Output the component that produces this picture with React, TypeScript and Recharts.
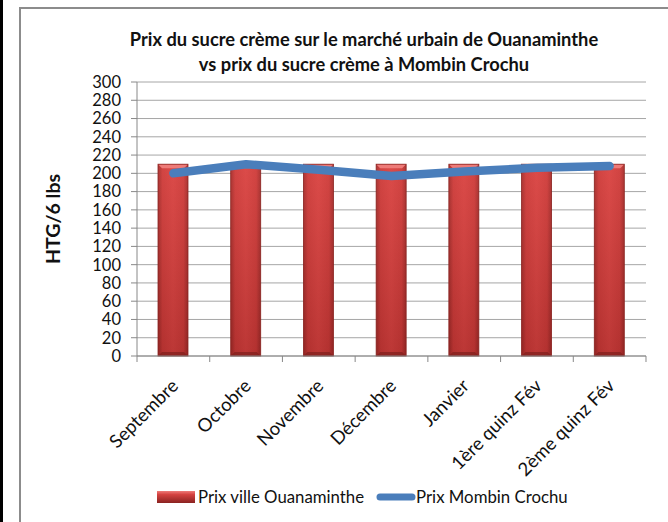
import React from 'react';
import { ComposedChart, Bar, Line, XAxis, YAxis, CartesianGrid } from 'recharts';

const categories = ['Septembre', 'Octobre', 'Novembre', 'Décembre', 'Janvier', '1ère quinz Fév', '2ème quinz Fév'];
const prixOuanaminthe = [210, 210, 210, 210, 210, 210, 210];
const prixMombin = [200, 210, 204, 197, 202, 206, 208];
const yTicks = [0, 20, 40, 60, 80, 100, 120, 140, 160, 180, 200, 220, 240, 260, 280, 300];

const titleLines = ['Prix du sucre crème sur le marché urbain de Ouanaminthe', 'vs prix du sucre crème à Mombin Crochu'];
const yLabel = 'HTG/6 lbs';
const seriesNames = ['Prix ville Ouanaminthe', 'Prix Mombin Crochu'];

const data = categories.map((c, i) => ({ cat: c, ouana: prixOuanaminthe[i], mombin: prixMombin[i] }));

const FONT = 'Lato, "Open Sans", sans-serif';

const BarShape = (props: any) => {
  const { x, y, width, height } = props;
  if (!height || height <= 0) return null;
  const b = 4;
  return (
    <g>
      <rect x={x} y={y} width={width} height={height} fill="url(#barH)" />
      <rect x={x} y={y} width={width} height={height} fill="url(#barV)" />
      <polygon points={`${x},${y} ${x + width},${y} ${x + width - b},${y + b} ${x + b},${y + b}`} fill="#ee7b78" />
      <polygon points={`${x},${y + height} ${x + width},${y + height} ${x + width - b},${y + height - b} ${x + b},${y + height - b}`} fill="#7e1f1d" opacity={0.7} />
      <rect x={x} y={y} width={width} height={height} fill="none" stroke="#8a2321" strokeWidth={0.8} />
    </g>
  );
};

const XTick = (props: any) => {
  const { x, y, payload, index, visibleTicksCount } = props;
  const half = 72.7 / 2;
  return (
    <g>
      <line x1={x - half} y1={y - 8} x2={x - half} y2={y - 2} stroke="#888" />
      {index === (visibleTicksCount ?? 7) - 1 && (
        <line x1={x + half} y1={y - 8} x2={x + half} y2={y - 2} stroke="#888" />
      )}
      <text
        x={x + 6}
        y={y + 23}
        transform={`rotate(-45, ${x + 6}, ${y + 23})`}
        textAnchor="end"
        fontSize={18.5}
        fontFamily={FONT}
        fill="#111"
      >
        {payload.value}
      </text>
    </g>
  );
};

export default function App() {
  return (
    <div style={{ position: 'absolute', left: 0, top: 0, width: 668, height: 522, background: '#fff', overflow: 'hidden', fontFamily: FONT }}>
      <div style={{ position: 'absolute', left: 0, top: 0, width: 3, height: 522, background: '#000' }} />
      <div style={{ position: 'absolute', left: 19, top: 7, width: 649, height: 515, borderLeft: '2px solid #8c8c8c', borderTop: '2px solid #8c8c8c' }} />
      <div style={{ position: 'absolute', left: 44, top: 27, width: 640, textAlign: 'center', fontWeight: 700, fontSize: 18.3, lineHeight: '25px', color: '#111', whiteSpace: 'nowrap' }}>
        <div>{titleLines[0]}</div>
        <div>{titleLines[1]}</div>
      </div>
      <div style={{ position: 'absolute', left: 53, top: 219, width: 0, height: 0 }}>
        <div style={{ position: 'absolute', left: -60, top: -12, width: 120, textAlign: 'center', transform: 'rotate(-90deg)', fontWeight: 700, fontSize: 19.5, lineHeight: '24px', color: '#111', whiteSpace: 'nowrap' }}>
          {yLabel}
        </div>
      </div>
      <div style={{ position: 'absolute', left: 0, top: 0 }}>
        <ComposedChart width={668} height={522} data={data} margin={{ top: 82, right: 22, bottom: 106, left: 0 }} barSize={30}>
          <defs>
            <linearGradient id="barH" x1="0" y1="0" x2="1" y2="0">
              <stop offset="0" stopColor="#9a2927" />
              <stop offset="0.15" stopColor="#c83937" />
              <stop offset="0.5" stopColor="#d4413f" />
              <stop offset="0.85" stopColor="#c83937" />
              <stop offset="1" stopColor="#9a2927" />
            </linearGradient>
            <linearGradient id="barV" x1="0" y1="0" x2="0" y2="1">
              <stop offset="0" stopColor="#ff7a78" stopOpacity={0.18} />
              <stop offset="1" stopColor="#5a1010" stopOpacity={0.2} />
            </linearGradient>
          </defs>
          <CartesianGrid vertical={false} stroke="#a6a6a6" strokeWidth={1} />
          <XAxis
            dataKey="cat"
            interval={0}
            height={60}
            tickLine={false}
            axisLine={{ stroke: '#888' }}
            tick={<XTick />}
          />
          <YAxis
            width={137}
            domain={[0, 300]}
            ticks={yTicks}
            interval={0}
            tickSize={6}
            tickMargin={10}
            tickLine={{ stroke: '#888' }}
            axisLine={{ stroke: '#888' }}
            tick={{ fontSize: 16.5, fill: '#111', fontFamily: FONT }}
          />
          <Bar dataKey="ouana" isAnimationActive={false} shape={<BarShape />} />
          <Line dataKey="mombin" isAnimationActive={false} stroke="#4a7ebb" strokeWidth={8.5} strokeLinecap="round" strokeLinejoin="round" dot={false} type="linear" />
        </ComposedChart>
      </div>
      <div style={{ position: 'absolute', left: 157, top: 486, display: 'flex', alignItems: 'center', fontSize: 16.8, color: '#111', whiteSpace: 'nowrap' }}>
        <svg width={38} height={14} style={{ marginRight: 3 }}>
          <rect x={0} y={1} width={38} height={12} fill="url(#legH)" />
          <defs>
            <linearGradient id="legH" x1="0" y1="0" x2="0" y2="1">
              <stop offset="0" stopColor="#ee7b78" />
              <stop offset="0.3" stopColor="#d4413f" />
              <stop offset="1" stopColor="#8a2321" />
            </linearGradient>
          </defs>
        </svg>
        <span>{seriesNames[0]}</span>
        <svg width={40} height={14} style={{ marginLeft: 12 }}>
          <line x1={4} y1={7} x2={36} y2={7} stroke="#4a7ebb" strokeWidth={7} strokeLinecap="round" />
        </svg>
        <span>{seriesNames[1]}</span>
      </div>
    </div>
  );
}
